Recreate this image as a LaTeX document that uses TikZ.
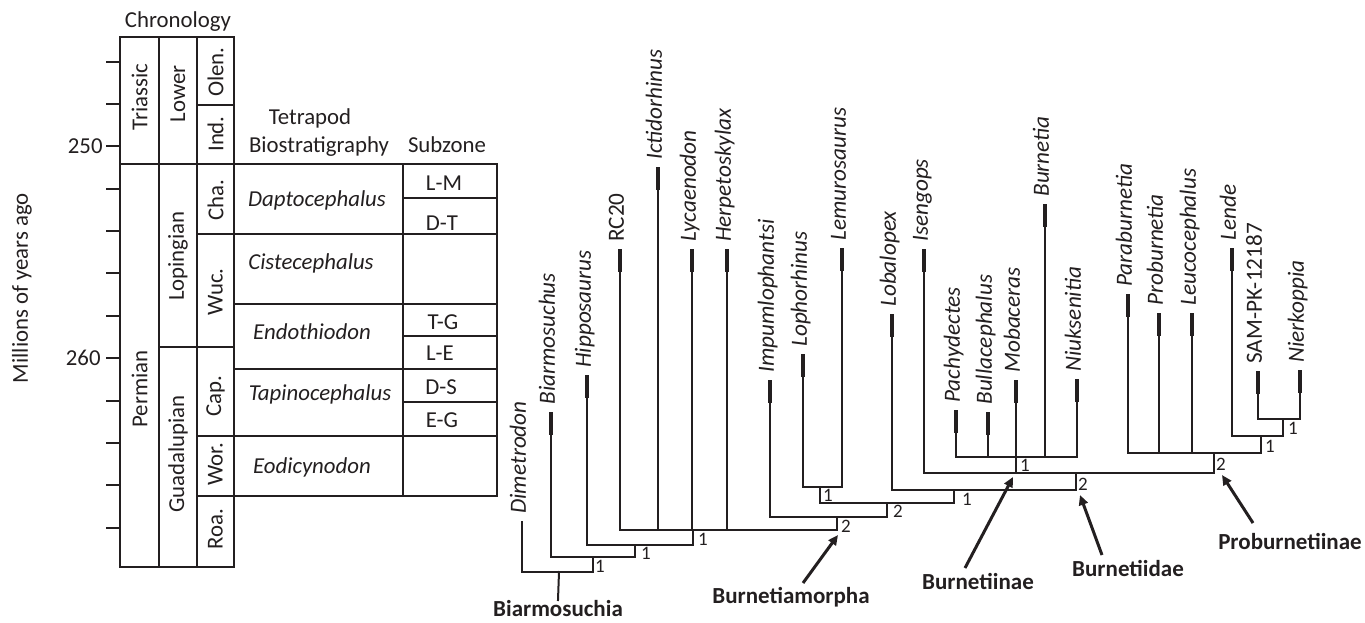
\documentclass[tikz,border=0pt]{standalone}
\usepackage{fontspec}
\setmainfont{Carlito}
\usetikzlibrary{arrows.meta}
\definecolor{ink}{HTML}{231F20}
\newcommand\mytaxon[5]{%
  \coordinate (#1-top) at (#2,#3);
  \coordinate (#1-bar) at (#2,#3+23);
  \coordinate (#1-join) at (#2,#4);
  \draw[tline] (#1-bar) -- (#1-join);
  \draw[barline] (#1-top) -- (#1-bar);
  \node[taxlab] (#1) at (#2-1,#3-7) {#5};
}
\begin{document}
\begin{tikzpicture}[x=0.5pt,y=-0.5pt,
  tline/.style={draw=ink, line width=1pt, line cap=rect},
  barline/.style={draw=ink, line width=2pt, line cap=butt},
  lab/.style={text=ink, inner sep=0pt, font=\fontsize{11.4}{14}\selectfont},
  itlab/.style={lab, font=\fontsize{11.4}{14}\selectfont\itshape},
  vlab/.style={lab, rotate=90},
  taxlab/.style={text=ink, inner sep=0pt, rotate=90, anchor=mid west, font=\fontsize{11.6}{14}\selectfont\itshape},
  num/.style={text=ink, inner sep=0pt, font=\fontsize{9.5}{11}\selectfont},
  clade/.style={text=ink, inner sep=0pt, font=\fontsize{11.5}{14}\selectfont\bfseries},
  pointer/.style={draw=ink, line width=1.5pt, -{Triangle[length=5pt,width=4.5pt]}}
]
\useasboundingbox (0,0) rectangle (1365,622);

% ---------------- chronology table ----------------
\draw[tline] (120,37) -- (234,37);
\foreach \x in {120,159,197,234} \draw[tline] (\x,37) -- (\x,567);
\draw[tline] (120,567) -- (234,567);
\draw[tline] (197,105) -- (234,105);
\draw[tline] (120,164) -- (497,164);
\draw[tline] (403,164) -- (403,496);
\draw[tline] (497,164) -- (497,496);
\draw[tline] (403,198) -- (497,198);
\draw[tline] (197,234) -- (497,234);
\draw[tline] (234,304) -- (497,304);
\draw[tline] (403,336) -- (497,336);
\draw[tline] (159,347) -- (234,347);
\draw[tline] (234,369) -- (497,369);
\draw[tline] (403,402) -- (497,402);
\draw[tline] (197,436) -- (497,436);
\draw[tline] (197,496) -- (497,496);
\foreach \y in {62,104,146,189,231,273,316,358,401,443,485,528}
  \draw[tline] (107,\y) -- (120,\y);

\node[lab, anchor=east] (t250) at (103,146) {250};
\node[lab, anchor=east] (t260) at (101,358) {260};
\node[vlab] (mya) at (22,288) {Millions of years ago};

\node[lab] (chron) at (178,22) {Chronology};
\node[lab] (tetra) at (310,118) {Tetrapod};
\node[lab] (biostrat) at (319,147) {Biostratigraphy};
\node[lab] (subz) at (447,145) {Subzone};

\node[vlab] (triassic) at (139.5,97) {Triassic};
\node[vlab] (lower) at (178,94) {Lower};
\node[vlab] (olen) at (215.5,72) {Olen.};
\node[vlab] (ind) at (215.5,134) {Ind.};
\node[vlab] (permian) at (139.5,389) {Permian};
\node[vlab] (lopingian) at (178,256) {Lopingian};
\node[vlab] (guadalupian) at (178,454) {Guadalupian};
\node[vlab] (cha) at (215.5,200) {Cha.};
\node[vlab] (wuc) at (215.5,292) {Wuc.};
\node[vlab] (cap) at (215.5,396) {Cap.};
\node[vlab] (wor) at (215.5,464) {Wor.};
\node[vlab] (roa) at (215.5,529) {Roa.};

\node[itlab] (dapto) at (317,200) {Daptocephalus};
\node[itlab] (ciste) at (311,263) {Cistecephalus};
\node[itlab] (endo) at (312,332) {Endothiodon};
\node[itlab] (tapino) at (320,394) {Tapinocephalus};
\node[itlab] (eodi) at (312,467) {Eodicynodon};

\node[lab] (lm) at (444,183) {L-M};
\node[lab] (dt) at (442,223) {D-T};
\node[lab] (tg) at (443,322) {T-G};
\node[lab] (le) at (440,353) {L-E};
\node[lab] (ds) at (441,387) {D-S};
\node[lab] (eg) at (442,420) {E-G};

% ---------------- taxa ----------------
\coordinate (dimetrodon-top) at (522,522);
\coordinate (dimetrodon-join) at (522,572);
\draw[tline] (dimetrodon-top) -- (dimetrodon-join);
\node[taxlab] (dimetrodon) at (521,514) {Dimetrodon};

\mytaxon{biarmosuchus}{551}{412}{557}{Biarmosuchus}
\mytaxon{hipposaurus}{587}{375}{545}{Hipposaurus}
\mytaxon{rc20}{620}{249}{530}{\upshape RC20}
\mytaxon{ictidorhinus}{658}{167}{530}{Ictidorhinus}
\mytaxon{lycaenodon}{692}{249}{530}{Lycaenodon}
\mytaxon{herpetoskylax}{727}{249}{530}{Herpetoskylax}
\mytaxon{impum}{770}{380}{517}{Impumlophantsi}
\mytaxon{lophorhinus}{803}{354}{487}{Lophorhinus}
\mytaxon{lemurosaurus}{842}{248}{487}{Lemurosaurus}
\mytaxon{lobalopex}{892}{314}{490}{Lobalopex}
\mytaxon{isengops}{924}{249}{473}{Isengops}
\mytaxon{pachydectes}{956}{410}{457}{Pachydectes}
\mytaxon{bullacephalus}{988}{412}{457}{Bullacephalus}
\mytaxon{mobaceras}{1016}{380}{457}{Mobaceras}
\mytaxon{burnetia}{1045}{204}{457}{Burnetia}
\mytaxon{niuksenitia}{1077}{379}{457}{Niuksenitia}
\mytaxon{paraburnetia}{1128}{294}{453}{Paraburnetia}
\mytaxon{proburnetia}{1159}{313}{453}{Proburnetia}
\mytaxon{leucocephalus}{1192}{313}{453}{Leucocephalus}
\mytaxon{lende}{1232}{248}{436}{Lende}
\mytaxon{sampk}{1258}{371}{419}{\upshape SAM-PK-12187}
\mytaxon{nierkoppia}{1300}{370}{419}{Nierkoppia}

% ---------------- internal nodes ----------------
\coordinate (nA) at (593,572);  \coordinate (nAt) at (593,557);
\coordinate (nB) at (635,557);  \coordinate (nBt) at (635,545);
\coordinate (nC) at (693,545);  \coordinate (nCt) at (693,530);
\coordinate (nD) at (837,530);  \coordinate (nDt) at (837,517);
\coordinate (nE) at (887,517);  \coordinate (nEt) at (887,503);
\coordinate (nL) at (820,487);  \coordinate (nLb) at (820,503);
\coordinate (nF) at (954,503);  \coordinate (nFt) at (954,490);
\coordinate (nG) at (1076,490); \coordinate (nGt) at (1076,473);
\coordinate (nI) at (1016,473); \coordinate (nIt) at (1016,457);
\coordinate (nH) at (1214,473); \coordinate (nHt) at (1214,453);
\coordinate (nJ) at (1261,453); \coordinate (nJt) at (1261,436);
\coordinate (nK) at (1283,436); \coordinate (nKt) at (1283,419);
\coordinate (rootstem) at (559,572);

\draw[tline] (dimetrodon-join) -- (nA) -- (nAt);
\draw[tline] (biarmosuchus-join) -- (nB) -- (nBt);
\draw[tline] (hipposaurus-join) -- (nC) -- (nCt);
\draw[tline] (rc20-join) -- (nD) -- (nDt);
\draw[tline] (impum-join) -- (nE) -- (nEt);
\draw[tline] (lophorhinus-join) -- (lemurosaurus-join);
\draw[tline] (nL) -- (nLb) -- (nF) -- (nFt);
\draw[tline] (lobalopex-join) -- (nG) -- (nGt);
\draw[tline] (isengops-join) -- (nH) -- (nHt);
\draw[tline] (nI) -- (nIt);
\draw[tline] (pachydectes-join) -- (niuksenitia-join);
\draw[tline] (paraburnetia-join) -- (nJ) -- (nJt);
\draw[tline] (lende-join) -- (nK) -- (nKt);
\draw[tline] (sampk-join) -- (nierkoppia-join);

\node[num] (s1) at (600,566) {1};
\node[num] (s2) at (646,553) {1};
\node[num] (s3) at (703,539) {1};
\node[num] (s4) at (846,526) {2};
\node[num] (s5) at (898,511) {2};
\node[num] (s6) at (828,495) {1};
\node[num] (s7) at (967,499) {1};
\node[num] (s8) at (1083,484) {2};
\node[num] (s9) at (1025,465) {1};
\node[num] (s10) at (1221,464) {2};
\node[num] (s11) at (1270,446) {1};
\node[num] (s12) at (1293,428) {1};

% ---------------- clade labels ----------------
\node[clade, anchor=north] (biarmosuchia) at (558,600) {Biarmosuchia};
\draw[tline] (rootstem) -- (biarmosuchia.north);
\node[clade] (burnetiamorpha) at (791,597) {Burnetiamorpha};
\node[clade] (burnetiinae) at (978,581) {Burnetiinae};
\node[clade] (burnetiidae) at (1128,568) {Burnetiidae};
\node[clade] (proburnetiinae) at (1290,541) {Proburnetiinae};

\coordinate (a1s) at (803,583); \coordinate (a1e) at (838,535);
\coordinate (a2s) at (965,568); \coordinate (a2e) at (1013,477);
\coordinate (a3s) at (1102,555); \coordinate (a3e) at (1080,495);
\coordinate (a4s) at (1253,523); \coordinate (a4e) at (1222,475);
\draw[pointer] (a1s) -- (a1e);
\draw[pointer] (a2s) -- (a2e);
\draw[pointer] (a3s) -- (a3e);
\draw[pointer] (a4s) -- (a4e);
\end{tikzpicture}
\end{document}
